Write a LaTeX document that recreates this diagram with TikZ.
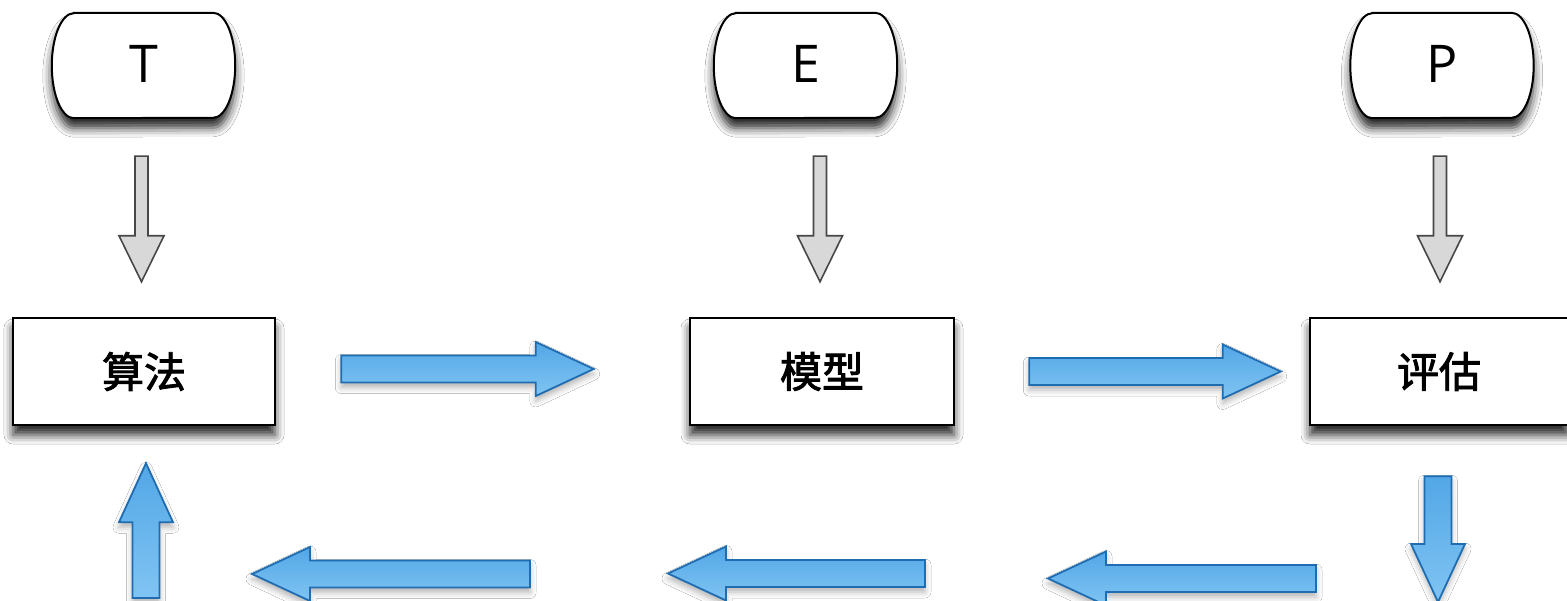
\documentclass[tikz,border=0pt]{standalone}
\usepackage{fontspec}
\setmainfont{Open Sans}
\newfontfamily\cjk{Noto Sans CJK SC}[FakeBold=2.2]
\usetikzlibrary{shadows.blur, calc}

\definecolor{blueA}{HTML}{52A7E6}
\definecolor{blueB}{HTML}{80C4F3}
\definecolor{blueline}{HTML}{1F6DB0}
\definecolor{grayfill}{HTML}{D8D8D8}
\definecolor{grayline}{HTML}{474747}

\makeatletter
% #1 style, #2 start coordinate name, #3 end coordinate name,
% #4 shaft half width, #5 head half width, #6 head length
\newcommand\blockarrow[6]{%
  \pgfpointanchor{#2}{center}\pgfgetlastxy{\ba@ax}{\ba@ay}%
  \pgfpointanchor{#3}{center}\pgfgetlastxy{\ba@bx}{\ba@by}%
  \pgfmathsetmacro\ba@len{veclen(\ba@bx-\ba@ax,\ba@by-\ba@ay)}%
  \pgfmathsetmacro\ba@ang{atan2(\ba@by-\ba@ay,\ba@bx-\ba@ax)}%
  \pgfmathsetmacro\ba@base{\ba@len-#6}%
  \draw[#1, shift={(\ba@ax,\ba@ay)}, rotate=\ba@ang]
    (0,#4) -- (\ba@base,#4) -- (\ba@base,#5) -- (\ba@len,0)
    -- (\ba@base,-#5) -- (\ba@base,-#4) -- (0,-#4) -- cycle;
}
% terminator outline around a named node: straight top/bottom, half-ellipse ends
\newcommand\termoutline[1]{%
  \draw[termline] ($(#1.north west)+(22,0)$) -- ($(#1.north east)+(-22,0)$)
    arc[start angle=90, end angle=-90, x radius=22pt, y radius=52.5pt]
    -- ($(#1.south west)+(22,0)$)
    arc[start angle=270, end angle=90, x radius=22pt, y radius=52.5pt] -- cycle;
}
\makeatother

\tikzset{
  term/.style={rectangle, draw=none,
    minimum width=183pt, minimum height=105pt, inner sep=0pt,
    font=\fontsize{52}{60}\selectfont},
  termline/.style={draw=black, line width=2pt, fill=white,
    blur shadow={shadow xshift=0pt, shadow yshift=-10pt, shadow blur radius=9pt, shadow opacity=85}},
  stepbox/.style={rectangle, draw=black, line width=2.5pt, fill=white,
    minimum height=107pt, inner sep=0pt,
    font=\cjk\fontsize{42}{48}\selectfont,
    blur shadow={shadow xshift=0pt, shadow yshift=-10pt, shadow blur radius=9pt, shadow opacity=85}},
  grayarr/.style={fill=grayfill, draw=grayline, line width=1.6pt, line join=miter},
  bluearr/.style={top color=blueA, bottom color=blueB, draw=blueline,
    line width=1.8pt, line join=miter,
    blur shadow={shadow xshift=0pt, shadow yshift=-5pt, shadow blur radius=6pt, shadow opacity=30}}
}

\begin{document}
\begin{tikzpicture}[x=1pt, y=-1pt]
\useasboundingbox (0,0) rectangle (1567,601);
\fill[white] (0,0) rectangle (1567,601);
\clip (0,0) rectangle (1567,601);

% terminators
\node[term] (T) at (143.5,65.5) {};
\node[term] (E) at (805.5,65.5) {};
\node[term] (P) at (1442,65.5) {};
\termoutline{T}
\termoutline{E}
\termoutline{P}
\node[term] (Tl) at (T.center) {\raisebox{4pt}{T}};
\node[term] (El) at (E.center) {\raisebox{4pt}{E}};
\node[term] (Pl) at (P.center) {\raisebox{4pt}{P}};

% process boxes
\node[stepbox, minimum width=262pt] (alg) at (144,371.5) {算法};
\node[stepbox, minimum width=264pt] (model) at (822,371.5) {模型};
\node[stepbox, minimum width=258pt] (eval) at (1439,371.5) {评估};

% gray input arrows
\coordinate (t1) at ($(T.south)+(-2,38)$);
\coordinate (t2) at ($(alg.north)+(-2.5,-35)$);
\coordinate (e1) at ($(E.south)+(14.5,38)$);
\coordinate (e2) at ($(model.north)+(-2,-35)$);
\coordinate (p1) at ($(P.south)+(-2,38)$);
\coordinate (p2) at ($(eval.north)+(1,-35)$);
\blockarrow{grayarr}{t1}{t2}{6.5}{22.5}{46}
\blockarrow{grayarr}{e1}{e2}{6.5}{22.5}{46}
\blockarrow{grayarr}{p1}{p2}{6.5}{22.5}{46}

% blue flow arrows
\coordinate (a1s) at ($(alg.east)+(65,-2.5)$);
\coordinate (a1e) at ($(model.west)+(-95,-2.5)$);
\coordinate (a2s) at ($(model.east)+(74,0)$);
\coordinate (a2e) at ($(eval.west)+(-28,0)$);
\coordinate (ds) at ($(eval.south)+(-1,50)$);
\coordinate (de) at (1438,602);
\coordinate (l3s) at (1316,578.5);
\coordinate (l3e) at (1048,578.5);
\coordinate (l2s) at (925,573.5);
\coordinate (l2e) at (668,573.5);
\coordinate (l1s) at (530,574);
\coordinate (l1e) at (252,574);
\coordinate (us) at (146,598);
\coordinate (ue) at ($(alg.south)+(2,37)$);

\blockarrow{bluearr}{a1s}{a1e}{13.5}{27}{58}
\blockarrow{bluearr}{a2s}{a2e}{13.5}{27}{58}
\blockarrow{bluearr}{ds}{de}{13.5}{27}{58}
\blockarrow{bluearr}{l3s}{l3e}{13.5}{27}{58}
\blockarrow{bluearr}{l2s}{l2e}{13.5}{27}{58}
\blockarrow{bluearr}{l1s}{l1e}{13.5}{27}{58}
\blockarrow{bluearr}{us}{ue}{13.5}{27}{59}
\end{tikzpicture}
\end{document}
